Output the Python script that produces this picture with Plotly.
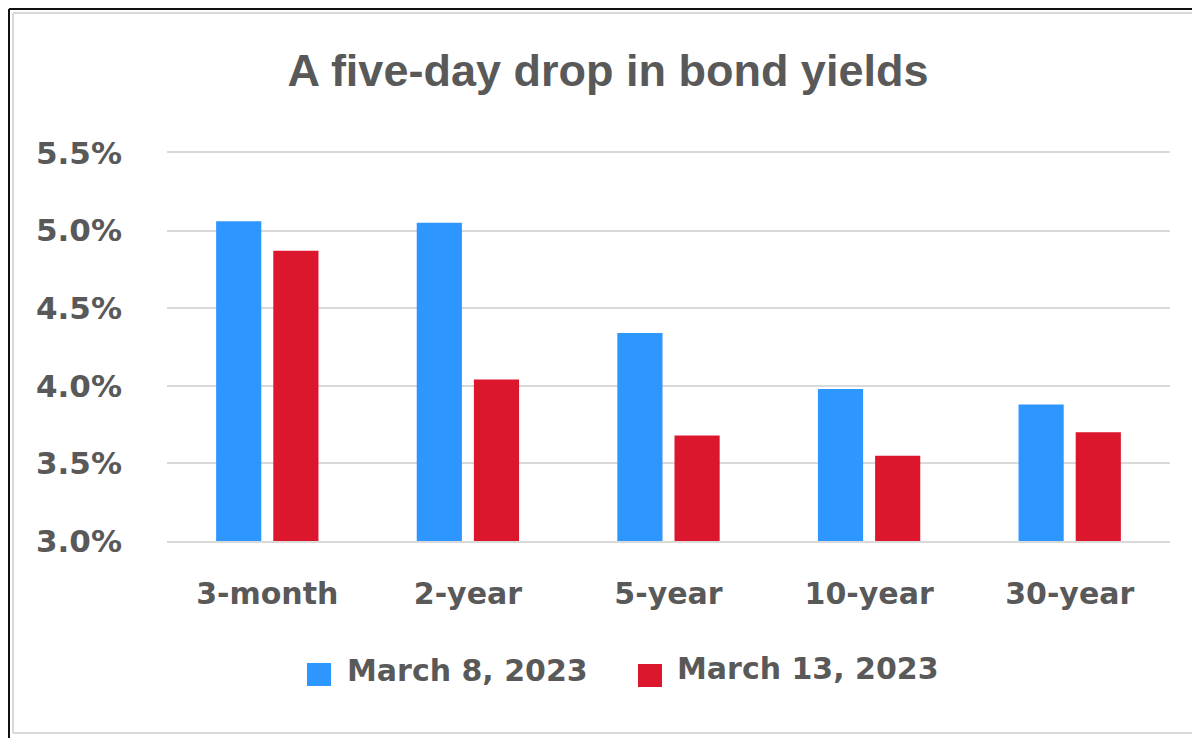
import plotly.graph_objects as go

categories = ["3-month", "2-year", "5-year", "10-year", "30-year"]
march8 = [5.06, 5.05, 4.34, 3.98, 3.88]
march13 = [4.87, 4.04, 3.68, 3.55, 3.70]
series_names = ["March 8, 2023", "March 13, 2023"]
colors = ["#2E96FF", "#DC162D"]
tick_vals = [3.0, 3.5, 4.0, 4.5, 5.0, 5.5]
tick_text = ["3.0%", "3.5%", "4.0%", "4.5%", "5.0%", "5.5%"]

# page body has an 8px margin: figure is drawn offset by (8, 8) on screen
OFF = 8
W, H = 1200 - OFF, 738 - OFF
L, R, T, B = 167 - OFF, W - (1170 - OFF), 153 - OFF, H - (541 - OFF)
TXT = "#595959"
FONT = "DejaVu Sans"

pw = W - L - R
ph = H - T - B


def px(sx):
    return (sx - OFF - L) / pw


def py(sy):
    return (H - B - (sy - OFF)) / ph


fig = go.Figure()
for name, vals, col in zip(series_names, [march8, march13], colors):
    fig.add_trace(go.Bar(x=categories, y=vals, name=name,
                         marker=dict(color=col, line=dict(width=0)),
                         showlegend=False))

GRID = "#D9D9D9"
shapes = [
    # outer black frame (top, left)
    dict(type="line", xref="paper", yref="paper", x0=px(9), x1=px(1200), y0=py(9), y1=py(9),
         line=dict(color="#111111", width=2), layer="above"),
    dict(type="line", xref="paper", yref="paper", x0=px(9), x1=px(9), y0=py(9), y1=py(738),
         line=dict(color="#111111", width=2), layer="above"),
    # inner grey frame
    dict(type="line", xref="paper", yref="paper", x0=px(13), x1=px(1200), y0=py(13), y1=py(13),
         line=dict(color=GRID, width=2)),
    dict(type="line", xref="paper", yref="paper", x0=px(13), x1=px(13), y0=py(13), y1=py(733),
         line=dict(color=GRID, width=2)),
    dict(type="line", xref="paper", yref="paper", x0=px(13), x1=px(1200), y0=py(733), y1=py(733),
         line=dict(color=GRID, width=2)),
]

# manual legend (swatches + labels)
legend_swatches = [(307, 331, 663, 686), (638, 662, 664, 687)]
legend_text_pos = [(345, 670), (675, 668)]
annotations = []
for name, col, (x0, x1, y0, y1), (tx, ty) in zip(series_names, colors, legend_swatches, legend_text_pos):
    shapes.append(dict(type="rect", xref="paper", yref="paper",
                       x0=px(x0), x1=px(x1), y0=py(y1), y1=py(y0),
                       fillcolor=col, line=dict(width=0)))
    annotations.append(dict(text=name, xref="paper", yref="paper", x=px(tx), y=py(ty),
                            xanchor="left", yanchor="middle", showarrow=False,
                            font=dict(family=FONT, size=30, color=TXT, weight="bold")))

fig.update_layout(
    width=W, height=H,
    margin=dict(l=L, r=R, t=T, b=B, pad=0),
    paper_bgcolor="white", plot_bgcolor="white",
    barmode="group", bargap=0.43, bargroupgap=0.21,
    title=dict(text="A five-day drop in bond yields", x=(608 - OFF) / W, xanchor="center",
               y=1 - (70 - OFF) / H, yanchor="middle",
               font=dict(family="Liberation Sans", size=45, color=TXT, weight="bold")),
    xaxis=dict(showgrid=False, showline=True, linecolor=GRID, linewidth=2, mirror=True,
               ticks="",
               tickfont=dict(family=FONT, size=30, color=TXT, weight="bold"),
               ticklabelstandoff=25),
    yaxis=dict(range=[3.0, 5.5], tickvals=tick_vals, ticktext=tick_text,
               showgrid=True, gridcolor=GRID, gridwidth=2,
               zeroline=False, showline=False, ticks="",
               tickfont=dict(family=FONT, size=31, color=TXT, weight="bold"),
               ticklabelstandoff=44),
    shapes=shapes,
    annotations=annotations,
    showlegend=False,
)

fig.write_html("out.html")
